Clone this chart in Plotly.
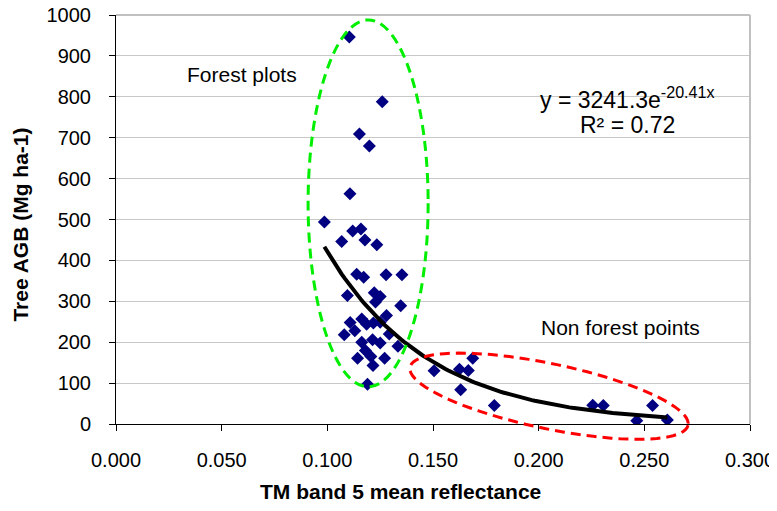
import numpy as np
import plotly.graph_objs as go

# reflectance (TM band 5) and tree AGB
forest_x = [0.1104, 0.1260, 0.1152, 0.1199, 0.1107, 0.0986, 0.1120, 0.1159,
            0.1068, 0.1178, 0.1234, 0.1139, 0.1172, 0.1278, 0.1353, 0.1095,
            0.1222, 0.1250, 0.1228, 0.1347, 0.1280, 0.1108, 0.1163, 0.1186,
            0.1218, 0.1250, 0.1080, 0.1130, 0.1293, 0.1163, 0.1214, 0.1250,
            0.1334, 0.1143, 0.1206, 0.1271, 0.1216, 0.1180, 0.1190]
forest_y = [946, 788, 709, 680, 563, 494, 472, 477,
            446, 450, 438, 366, 359, 365, 365, 314,
            321, 312, 298, 289, 265, 248, 257, 244,
            247, 249, 218, 228, 220, 200, 206, 198,
            190, 161, 165, 161, 143, 180, 97]

nonforest_x = [0.1505, 0.1625, 0.1667, 0.1688, 0.1631, 0.1790, 0.2256,
               0.2306, 0.2464, 0.2539, 0.2609]
nonforest_y = [130, 134, 131, 161, 84, 45, 46, 45, 8, 45, 10]

# exponential trendline as printed on the chart
fit_a = 3241.3
fit_b = -20.41
fit_r2 = 0.72

x_all = forest_x + nonforest_x
y_all = forest_y + nonforest_y

x_range = [0, 0.3]
y_range = [0, 1000]

fit_x = np.linspace(min(x_all), max(x_all), 120)
fit_y = fit_a * np.exp(fit_b * fit_x)


def to_paper(x, y):
    return ((x - x_range[0]) / (x_range[1] - x_range[0]),
            (y - y_range[0]) / (y_range[1] - y_range[0]))


# tilted ellipse round the non forest points (paper coords so it is not clipped)
def ellipse_path(cx, cy, a, b, ang):
    # cx, cy in data units; a, b in plot pixels; ang in degrees (down to the right)
    px_per_x = 634 / (x_range[1] - x_range[0])
    px_per_y = 409 / (y_range[1] - y_range[0])
    t = np.linspace(0, 2 * np.pi, 90)
    th = np.radians(ang)
    dx = a * np.cos(t) * np.cos(th) - b * np.sin(t) * np.sin(th)
    dy = a * np.cos(t) * np.sin(th) + b * np.sin(t) * np.cos(th)
    xs = cx + dx / px_per_x
    ys = cy - dy / px_per_y
    pts = [to_paper(xx, yy) for xx, yy in zip(xs, ys)]
    return 'M ' + ' L '.join('%.5f,%.5f' % p for p in pts) + ' Z'


data = []
data.append(
    go.Scatter(
        x=x_all,
        y=y_all,
        mode='markers',
        marker=dict(symbol='diamond', size=10, color='#000080',
                    line=dict(width=0)),
        showlegend=False
    )
)
data.append(
    go.Scatter(
        x=fit_x,
        y=fit_y,
        mode='lines',
        line=dict(color='black', width=4),
        showlegend=False
    )
)

shapes = [
    dict(type='circle', xref='x', yref='y', x0=0.0909, x1=0.1477, y0=91, y1=988,
         line=dict(color='#00ee00', width=3, dash='10px,6px')),
    dict(type='path', xref='paper', yref='paper',
         path=ellipse_path(0.2049, 68, 142, 32.5, 11.8),
         line=dict(color='#ff0000', width=3, dash='10px,6px')),
    # gray plot-area border on top and right
    dict(type='line', xref='paper', yref='paper', x0=0, x1=1, y0=1, y1=1,
         line=dict(color='#c0c0c0', width=2)),
    dict(type='line', xref='paper', yref='paper', x0=1, x1=1, y0=0, y1=1,
         line=dict(color='#c0c0c0', width=2)),
]

annotations = [
    dict(x=0.0596, y=854, xref='x', yref='y', text='Forest plots', showarrow=False,
         font=dict(size=21)),
    dict(x=0.2385, y=236, xref='x', yref='y', text='Non forest points', showarrow=False,
         font=dict(size=21)),
    dict(x=0.2418, y=798, xref='x', yref='y',
         text='y = 3241.3e<sup>-20.41x</sup>', showarrow=False, font=dict(size=23)),
    dict(x=0.2418, y=732, xref='x', yref='y',
         text='R² = %.2f' % fit_r2, showarrow=False, font=dict(size=23)),
    # axis titles, centred on the chart area like Excel does
    dict(x=0.4495, y=-0.197, xref='paper', yref='paper',
         text='<b>TM band 5 mean reflectance</b>', showarrow=False,
         font=dict(size=21)),
    dict(x=-0.1715, y=0.487, xref='paper', yref='paper', textangle=-90,
         text='<b>Tree AGB (Mg ha-1)</b>', showarrow=False,
         font=dict(size=21)),
]

# the page body adds an 8px margin, so the figure is shifted by 8px and
# the margins are set to keep the plot area where it is in the reference
layout = go.Layout(
    width=769,
    height=495,
    font=dict(family='Liberation Sans, Arial', size=20, color='black'),
    paper_bgcolor='white',
    plot_bgcolor='white',
    margin=dict(l=108, r=27, t=7, b=79, pad=0),
    xaxis=dict(
        range=x_range,
        tickvals=[0, 0.05, 0.1, 0.15, 0.2, 0.25, 0.3],
        ticktext=['0.000', '0.050', '0.100', '0.150', '0.200', '0.250', '0.300'],
        ticks='outside', ticklen=6, tickcolor='black',
        ticklabelstandoff=12, ticklabeloverflow='allow',
        showline=True, linecolor='black', linewidth=1,
        showgrid=False, zeroline=False, automargin=False,
    ),
    yaxis=dict(
        range=y_range,
        dtick=100,
        ticks='outside', ticklen=6, tickcolor='black',
        ticklabelstandoff=14, ticklabeloverflow='allow',
        showline=True, linecolor='black', linewidth=1,
        showgrid=True, gridcolor='#c8c8c8', gridwidth=1, zeroline=False,
        automargin=False,
    ),
    shapes=shapes,
    annotations=annotations,
)

fig = go.Figure(data=data, layout=layout)
fig.write_html("out.html")
